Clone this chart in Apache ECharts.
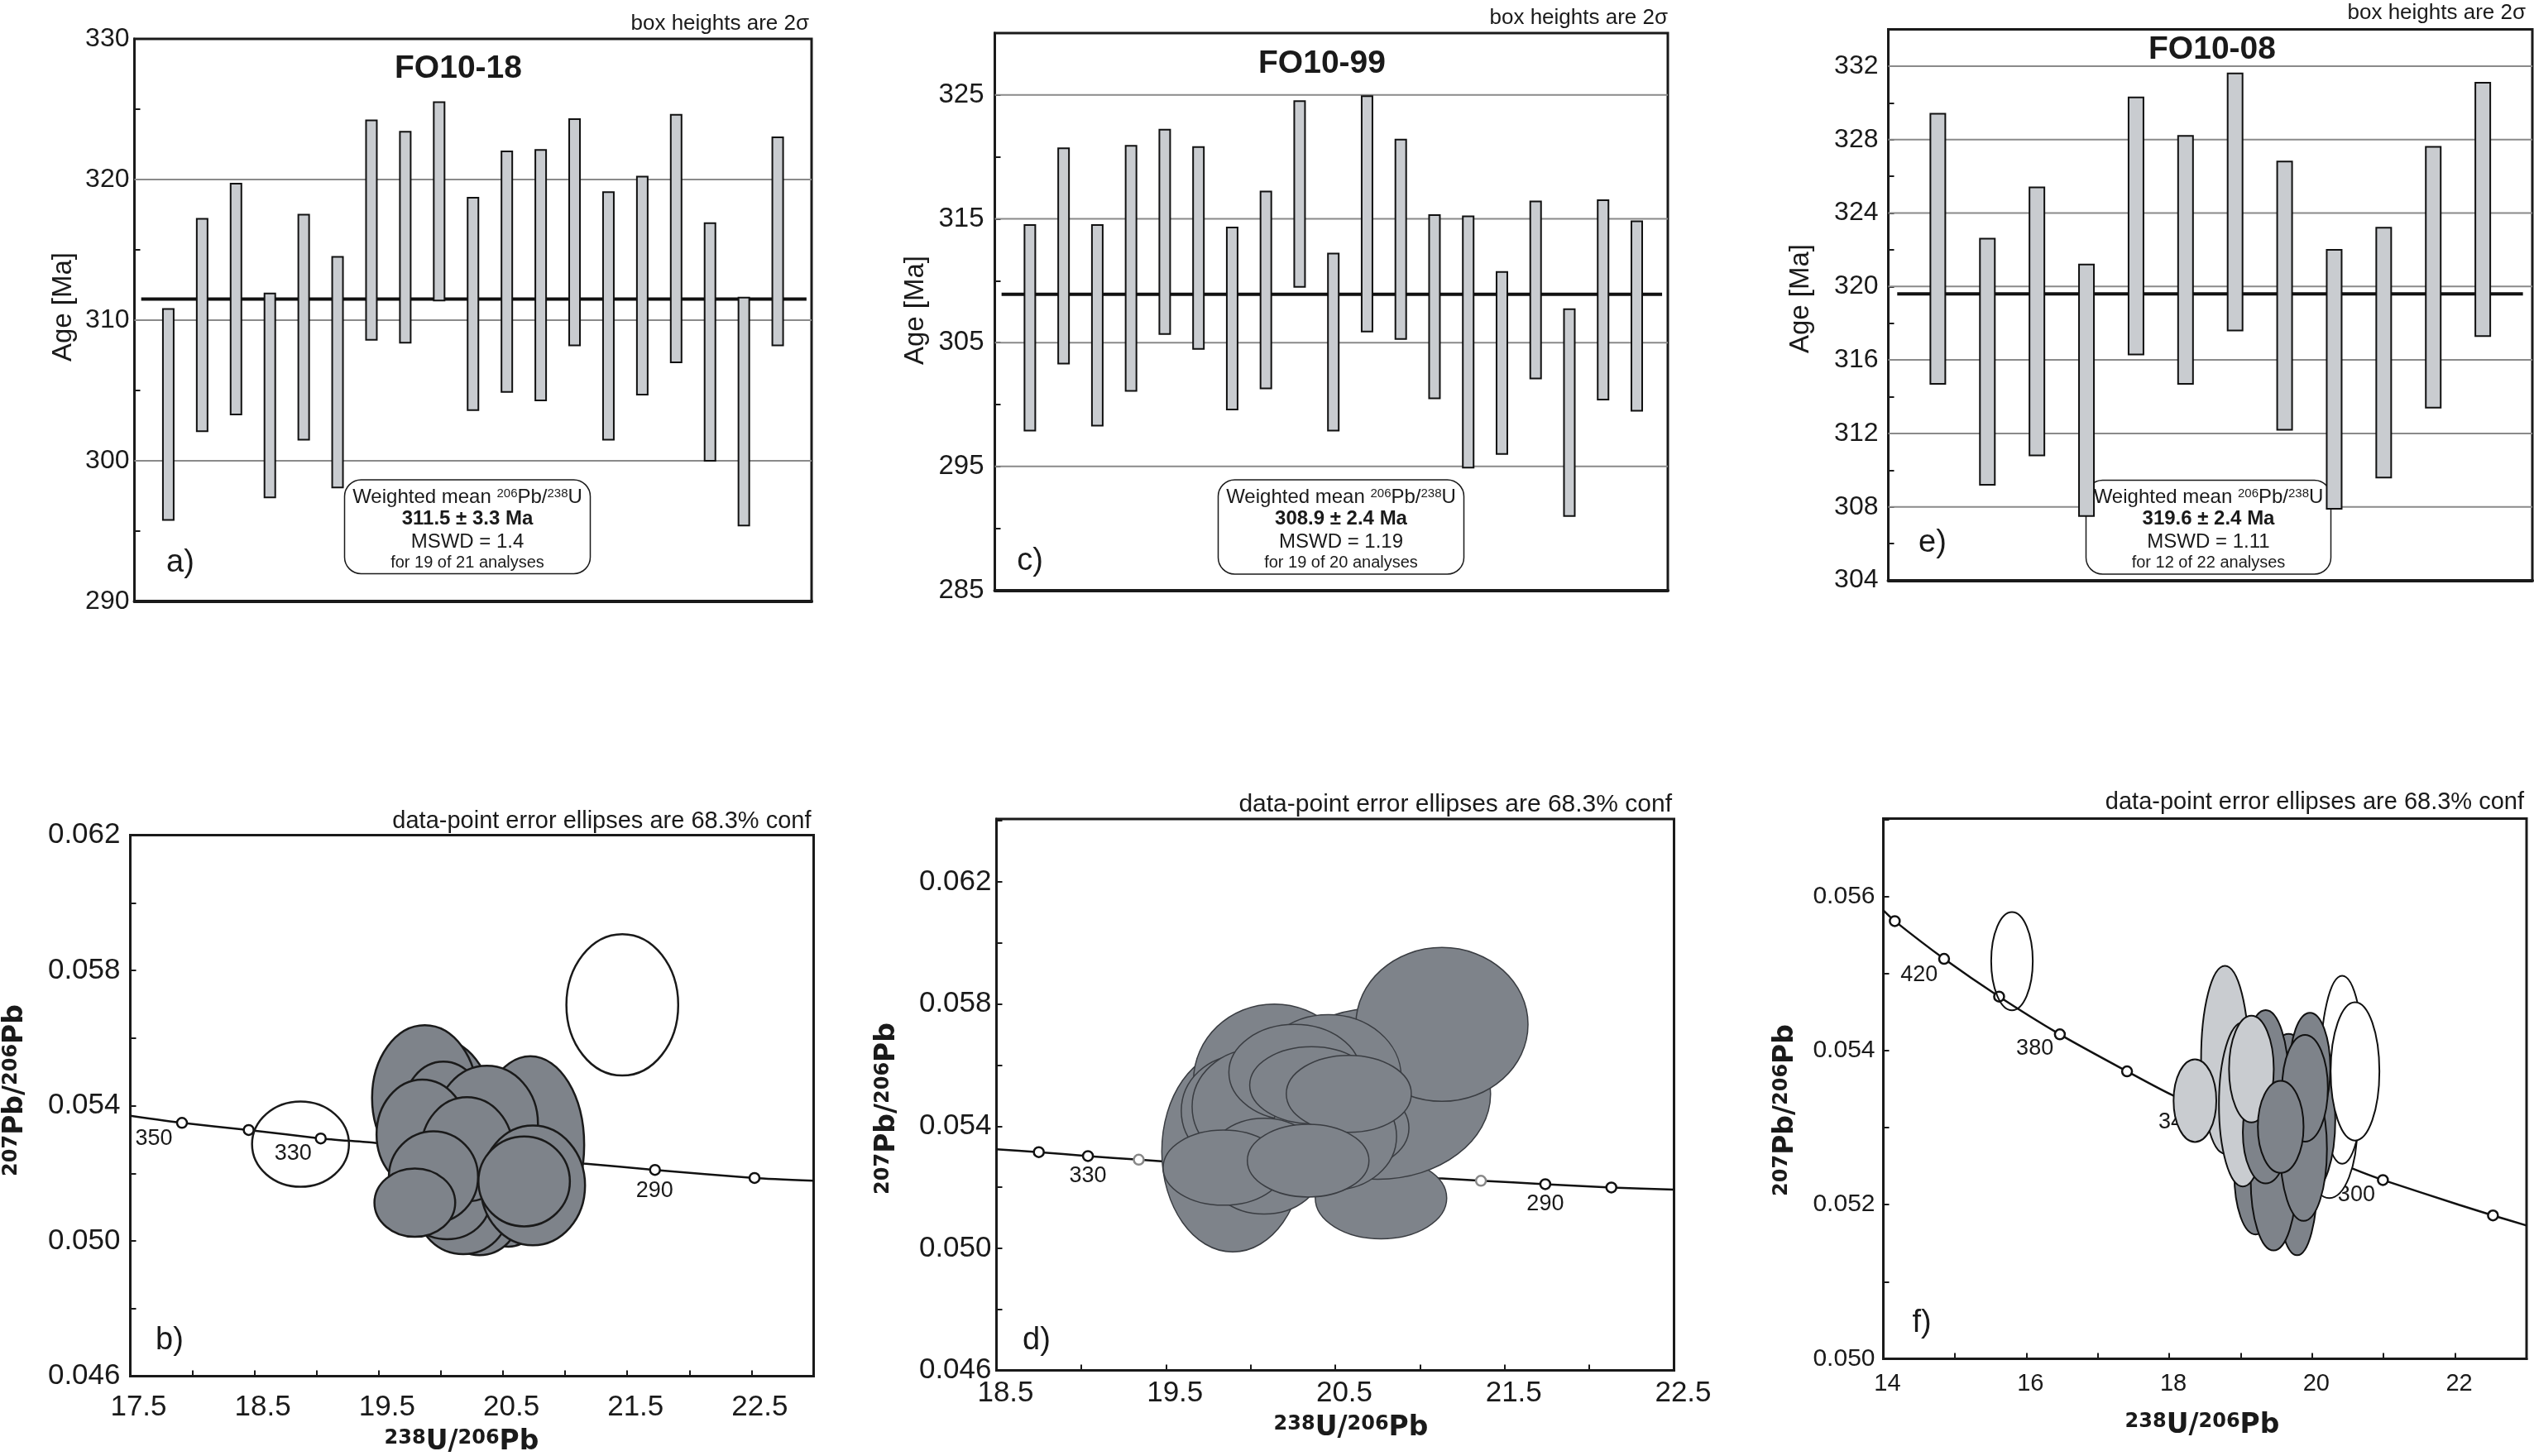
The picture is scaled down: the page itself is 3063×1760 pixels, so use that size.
<!DOCTYPE html>
<html>
<head>
<meta charset="utf-8">
<title>U-Pb zircon ages</title>
<script src="https://cdn.jsdelivr.net/npm/echarts@6/dist/echarts.min.js"></script>
<style>
  html, body { margin: 0; padding: 0; background: #fff; }
  #chart { width: 3063px; height: 1760px; }
</style>
</head>
<body>
<div id="chart"></div>
<script>
// Age panels: top and bottom of each 2 sigma box, in Ma
const aTop = [310.8, 317.2, 319.7, 311.9, 317.5, 314.5, 324.2, 323.4, 325.5, 318.7, 322.0, 322.1, 324.3, 319.1, 320.2, 324.6, 316.9, 311.6, 323.0];
const aBottom = [295.8, 302.1, 303.3, 297.4, 301.5, 298.1, 308.6, 308.4, 311.4, 303.6, 304.9, 304.3, 308.2, 301.5, 304.7, 307.0, 300.0, 295.4, 308.2];
const aMean = 311.5;
const aGridLines = [300, 310, 320];
const aTickLabels = [290, 300, 310, 320, 330];

const cTop = [314.5, 320.7, 314.5, 320.9, 322.2, 320.8, 314.3, 317.2, 324.5, 312.2, 324.9, 321.4, 315.3, 315.2, 310.7, 316.4, 307.7, 316.5, 314.8];
const cBottom = [297.9, 303.3, 298.3, 301.1, 305.7, 304.5, 299.6, 301.3, 309.5, 297.9, 305.9, 305.3, 300.5, 294.9, 296.0, 302.1, 291.0, 300.4, 299.5];
const cMean = 308.9;
const cGridLines = [295, 305, 315, 325];
const cTickLabels = [285, 295, 305, 315, 325];

const eTop = [329.4, 322.6, 325.4, 321.2, 330.3, 328.2, 331.6, 326.8, 322.0, 323.2, 327.6, 331.1];
const eBottom = [314.7, 309.2, 310.8, 307.5, 316.3, 314.7, 317.6, 312.2, 307.9, 309.6, 313.4, 317.3];
const eMean = 319.6;
const eGridLines = [308, 312, 316, 320, 324, 328, 332];
const eTickLabels = [304, 308, 312, 316, 320, 324, 328, 332];

// Concordia panels: ellipse centre, half widths and kind, in drawing order
const bEllipseX = [21.46, 18.87, 20.72, 20.545, 20.31, 20.18, 19.96, 19.87, 20.05, 20.02, 20.37, 19.85, 20.21, 20.74, 19.94, 19.79, 20.67];
const bEllipseY = [0.05698, 0.05286, 0.05284, 0.05094, 0.05082, 0.05094, 0.05385, 0.05423, 0.05119, 0.05385, 0.05347, 0.05315, 0.05271, 0.05164, 0.05189, 0.05113, 0.05176];
const bEllipseRx = [0.45, 0.39, 0.433, 0.26, 0.325, 0.368, 0.455, 0.424, 0.346, 0.325, 0.411, 0.368, 0.368, 0.42, 0.359, 0.325, 0.368];
const bEllipseRy = [0.00209, 0.00126, 0.00262, 0.00111, 0.00124, 0.00133, 0.00215, 0.00215, 0.00114, 0.00145, 0.00171, 0.00162, 0.00154, 0.00177, 0.00135, 0.00101, 0.00133];
const bEllipseKind = ['open', 'open', 'dark', 'dark', 'dark', 'dark', 'dark', 'dark', 'dark', 'dark', 'dark', 'dark', 'dark', 'dark', 'dark', 'dark', 'dark'];
const bCurveX = [17.5, 17.916, 18.453, 19.033, 19.47, 21.15, 21.723, 22.524, 23];
const bCurveY = [0.0537, 0.05349, 0.05328, 0.05303, 0.0529, 0.05229, 0.0521, 0.05186, 0.05178];
const bAgeX = [17.916, 18.453, 19.033, 21.723, 22.524];
const bAgeY = [0.05349, 0.05328, 0.05303, 0.0521, 0.05186];
const bLabelX = [17.69, 18.81, 21.72];
const bLabelY = [0.05301, 0.05258, 0.05147];
const bLabelText = ['350', '330', '290'];
const bYLabels = ['0.046', '0.050', '0.054', '0.058', '0.062'];
const bXLabels = ['17.5', '18.5', '19.5', '20.5', '21.5', '22.5'];

const dEllipseX = [19.895, 20.77, 20.75, 21.13, 20.14, 19.94, 20.03, 20.46, 20.26, 20.56, 20.49, 20.36, 20.08, 19.84, 20.58, 20.34];
const dEllipseY = [0.05317, 0.05164, 0.05506, 0.05733, 0.05548, 0.0545, 0.05464, 0.05562, 0.05576, 0.05394, 0.05366, 0.05534, 0.05269, 0.05264, 0.05506, 0.05287];
const dEllipseRx = [0.419, 0.388, 0.667, 0.508, 0.477, 0.349, 0.375, 0.429, 0.388, 0.375, 0.372, 0.365, 0.349, 0.356, 0.369, 0.359];
const dEllipseRy = [0.00329, 0.00133, 0.0028, 0.00252, 0.00252, 0.00182, 0.00189, 0.00203, 0.00157, 0.0014, 0.00175, 0.00126, 0.00157, 0.00123, 0.00126, 0.00119];
const dEllipseKind = dEllipseX.map(() => 'dark');
const dCurveX = [18.5, 18.75, 19.04, 19.34, 19.475, 21.11, 21.36, 21.74, 22.13, 22.5];
const dCurveY = [0.05324, 0.05315, 0.05302, 0.0529, 0.05285, 0.05229, 0.05221, 0.0521, 0.05199, 0.05192];
const dAgeX = [18.75, 19.04, 19.34, 21.36, 21.74, 22.13];
const dAgeY = [0.05315, 0.05302, 0.0529, 0.05221, 0.0521, 0.05199];
const dLabelX = [19.04, 21.74];
const dLabelY = [0.05238, 0.05145];
const dLabelText = ['330', '290'];
const dYLabels = ['0.046', '0.050', '0.054', '0.058', '0.062'];
const dXLabels = ['18.5', '19.5', '20.5', '21.5', '22.5'];

const fEllipseX = [15.8, 20.24, 20.42, 18.78, 19.21, 19.79, 19.46, 19.99, 19.67, 19.97, 19.35, 19.03, 19.35, 19.88, 19.9, 18.36, 19.15, 19.56, 20.6];
const fEllipseY = [0.05516, 0.053, 0.05375, 0.05388, 0.05239, 0.05233, 0.05233, 0.05311, 0.05344, 0.05377, 0.05361, 0.0533, 0.05294, 0.05272, 0.05351, 0.05335, 0.05376, 0.05301, 0.05373];
const fEllipseRx = [0.291, 0.39, 0.306, 0.334, 0.299, 0.284, 0.32, 0.334, 0.32, 0.284, 0.32, 0.334, 0.32, 0.327, 0.32, 0.299, 0.313, 0.32, 0.341];
const fEllipseRy = [0.000637, 0.000914, 0.001219, 0.001219, 0.000776, 0.000986, 0.000925, 0.000942, 0.000776, 0.00072, 0.000914, 0.001064, 0.000665, 0.000931, 0.000693, 0.000537, 0.000693, 0.000598, 0.000898];
const fEllipseKind = ['open', 'white', 'white', 'light', 'dark', 'dark', 'dark', 'dark', 'dark', 'dark', 'dark', 'light', 'dark', 'dark', 'dark', 'light', 'light', 'dark', 'white'];
const fCurveX = [14, 14.16, 14.85, 15.62, 16.47, 17.41, 18.07, 20.56, 20.99, 22.05, 22.53, 23];
const fCurveY = [0.05582, 0.05568, 0.05519, 0.0547, 0.05421, 0.05373, 0.05341, 0.05247, 0.05232, 0.052, 0.05186, 0.05173];
const fAgeX = [14.16, 14.85, 15.62, 16.47, 17.41, 20.99, 22.53];
const fAgeY = [0.05568, 0.05519, 0.0547, 0.05421, 0.05373, 0.05232, 0.05186];
const fLabelX = [14.5, 16.12, 18.11, 20.62];
const fLabelY = [0.05498, 0.05403, 0.05307, 0.05213];
const fLabelText = ['420', '380', '340', '300'];
const fYLabels = ['0.050', '0.052', '0.054', '0.056'];
const fXLabels = ['14', '16', '18', '20', '22'];

const FONT = '"Liberation Sans", Arial, sans-serif';
const BOLD_FONT = '"DejaVu Sans", sans-serif';
const INK = '#1a1a1a';
const ELLIPSE_FILL = { dark: '#7e838a', light: '#c9ccd0', white: '#ffffff', open: 'transparent' };

const grids = [];
const xAxes = [];
const yAxes = [];
const series = [];
const texts = [];

const addText = (text, x, y, style, extra) => {
    texts.push(Object.assign({
        type: 'text', x: x, y: y, z: 6,
        style: Object.assign({
            text: text, fontFamily: FONT, fontSize: 26, fill: INK,
            align: 'center', verticalAlign: 'middle'
        }, style)
    }, extra));
};

// Shared axes for one panel
const addAxes = (box, x, y) => {
    const index = grids.length;
    grids.push({
        left: box.left, top: box.top, width: box.right - box.left, height: box.bottom - box.top,
        show: true, borderColor: INK, borderWidth: box.border, backgroundColor: 'transparent'
    });
    xAxes.push({
        gridIndex: index, type: 'value', min: x.min, max: x.max, interval: x.interval,
        splitLine: { show: false },
        axisLine: { onZero: false, lineStyle: { color: INK, width: box.bottomLine } },
        axisTick: { show: !!x.labels, inside: true, length: 7, lineStyle: { color: INK, width: 2 } },
        axisLabel: x.labels ? {
            show: true, fontFamily: FONT, fontSize: x.fontSize, color: INK, margin: x.margin,
            padding: [0, 0, 0, x.shift], hideOverlap: false,
            showMinLabel: true, showMaxLabel: true,
            formatter: (v) => {
                const s = x.digits === 0 ? String(Math.round(v)) : v.toFixed(x.digits);
                return x.labels.includes(s) ? s : '';
            }
        } : { show: false }
    });
    yAxes.push({
        gridIndex: index, type: 'value', min: y.min, max: y.max, interval: y.interval,
        splitLine: { show: false },
        axisLine: { onZero: false, lineStyle: { color: INK, width: box.border } },
        axisTick: { show: true, inside: true, length: 7, lineStyle: { color: INK, width: 2 } },
        axisLabel: {
            show: true, fontFamily: FONT, fontSize: y.fontSize, color: INK, margin: y.margin,
            padding: y.shift < 0 ? [0, 0, -2 * y.shift, 0] : [2 * y.shift, 0, 0, 0],
            hideOverlap: false, showMinLabel: true, showMaxLabel: true,
            formatter: (v) => {
                const s = y.digits === 0 ? String(Math.round(v)) : v.toFixed(y.digits);
                return y.labels.includes(s) ? s : '';
            }
        }
    });
    return index;
};

// Panels a, c, e: boxes with the weighted mean across them
const addAgePanel = (cfg) => {
    const index = addAxes(cfg.box, { min: cfg.xMin, max: cfg.xMax, interval: cfg.xMax - cfg.xMin }, {
        min: cfg.yMin, max: cfg.yMax, interval: cfg.yStep, labels: cfg.labels.map(String),
        digits: 0, fontSize: cfg.fontSize, margin: cfg.labelMargin, shift: cfg.labelShift
    });
    series.push({
        type: 'custom', xAxisIndex: index, yAxisIndex: index, z: 1, silent: true,
        data: cfg.gridLines.map((v) => [cfg.xMin, v]),
        encode: { x: 0, y: 1 },
        renderItem: (params, api) => {
            const from = api.coord([cfg.xMin, api.value(1)]);
            const to = api.coord([cfg.xMax, api.value(1)]);
            return {
                type: 'line',
                shape: { x1: from[0], y1: from[1], x2: to[0], y2: to[1] },
                style: { stroke: '#8a8a8a', lineWidth: 2 }
            };
        }
    });
    series.push({
        type: 'line', xAxisIndex: index, yAxisIndex: index, z: 3, silent: true,
        showSymbol: false, symbol: 'none',
        data: [[cfg.meanFrom, cfg.mean], [cfg.meanTo, cfg.mean]],
        lineStyle: { color: '#111', width: 4 }
    });
    series.push({
        type: 'custom', xAxisIndex: index, yAxisIndex: index, z: 4, silent: true,
        data: cfg.top.map((t, i) => [i + 1, t, cfg.bottom[i]]),
        encode: { x: 0, y: [1, 2] },
        renderItem: (params, api) => {
            const a = api.coord([api.value(0), api.value(1)]);
            const b = api.coord([api.value(0), api.value(2)]);
            return {
                type: 'rect',
                shape: { x: a[0] - cfg.barWidth / 2, y: a[1], width: cfg.barWidth, height: b[1] - a[1] },
                style: { fill: '#c9ccd0', stroke: '#111', lineWidth: 2 }
            };
        }
    });
    addText('box heights are 2σ', cfg.noteX, cfg.noteY, { align: 'right', fontSize: 26 });
    addText(cfg.title, cfg.titleX, cfg.titleY, { fontSize: 39, fontWeight: 'bold' });
    addText('Age [Ma]', cfg.ageX, cfg.ageY, { fontSize: 33 }, { rotation: Math.PI / 2 });
    addText(cfg.letter, cfg.letterX, cfg.letterY, { fontSize: 38 });
    const m = cfg.meanBox;
    texts.push({
        type: 'rect', z: 2,
        shape: { x: m.left, y: m.top, width: m.right - m.left, height: m.bottom - m.top, r: 20 },
        style: { fill: '#fff', stroke: INK, lineWidth: 1.5 }
    });
    const cx = (m.left + m.right) / 2;
    addText('Weighted mean {s|206}Pb/{s|238}U', cx, m.top + 21, {
        fontSize: 24, rich: { s: { fontFamily: FONT, fontSize: 15, fill: INK, verticalAlign: 'top' } }
    });
    addText(cfg.age, cx, m.top + 47, { fontSize: 24, fontWeight: 'bold' });
    addText(cfg.mswd, cx, m.top + 75, { fontSize: 24 });
    addText(cfg.count, cx, m.top + 100, { fontSize: 20 });
};

const boldIsotope = (a, b, c, d, size, supSize) => ({
    text: '{s|' + a + '}{l|' + b + '}{s|' + c + '}{l|' + d + '}',
    rich: {
        s: { fontFamily: BOLD_FONT, fontWeight: 'bold', fontSize: supSize, fill: INK, verticalAlign: 'top' },
        l: { fontFamily: BOLD_FONT, fontWeight: 'bold', fontSize: size, fill: INK }
    }
});

// Panels b, d, f: concordia curve with its age marks, ellipses on top
const addConcordiaPanel = (cfg) => {
    const index = addAxes(cfg.box, {
        min: cfg.xMin, max: cfg.xMax, interval: cfg.xStep, labels: cfg.xLabels, digits: cfg.xDigits,
        fontSize: cfg.xFontSize, margin: cfg.xMargin, shift: cfg.xShift
    }, {
        min: cfg.yMin, max: cfg.yMax, interval: cfg.yStep, labels: cfg.yLabels, digits: 3,
        fontSize: cfg.yFontSize, margin: cfg.yMargin, shift: cfg.yShift
    });
    series.push({
        type: 'line', xAxisIndex: index, yAxisIndex: index, z: 2, silent: true,
        symbol: 'none', smooth: 0.2,
        data: cfg.curveX.map((x, i) => [x, cfg.curveY[i]]),
        lineStyle: { color: '#111', width: 2.5 }
    });
    series.push({
        type: 'scatter', xAxisIndex: index, yAxisIndex: index, z: 3, silent: true,
        symbol: 'circle', symbolSize: 12,
        data: cfg.ageX.map((x, i) => ({
            value: [x, cfg.ageY[i]],
            itemStyle: { color: '#fff', opacity: 1, borderColor: (cfg.faint || []).includes(i) ? '#888' : '#111', borderWidth: 2.5 }
        }))
    });
    series.push({
        type: 'scatter', xAxisIndex: index, yAxisIndex: index, z: 3, silent: true,
        symbolSize: 0, itemStyle: { opacity: 1 },
        data: cfg.labelX.map((x, i) => [x, cfg.labelY[i]]),
        label: {
            show: true, position: 'inside', fontFamily: FONT, fontSize: 27, color: INK,
            formatter: (p) => cfg.labelText[p.dataIndex]
        }
    });
    series.push({
        type: 'custom', xAxisIndex: index, yAxisIndex: index, z: 4, silent: true, clip: true,
        data: cfg.ellipseX.map((x, i) => [x, cfg.ellipseY[i], cfg.ellipseRx[i], cfg.ellipseRy[i]]),
        encode: { x: 0, y: 1 },
        renderItem: (params, api) => {
            const c = api.coord([api.value(0), api.value(1)]);
            const ex = api.coord([api.value(0) + api.value(2), api.value(1)]);
            const ey = api.coord([api.value(0), api.value(1) + api.value(3)]);
            return {
                type: 'ellipse',
                shape: { cx: c[0], cy: c[1], rx: ex[0] - c[0], ry: c[1] - ey[1] },
                style: { fill: ELLIPSE_FILL[cfg.ellipseKind[params.dataIndex]], stroke: cfg.stroke, lineWidth: cfg.strokeWidth }
            };
        }
    });
    addText('data-point error ellipses are 68.3% conf', cfg.noteX, cfg.noteY, { align: 'right', fontSize: cfg.noteSize });
    addText(cfg.letter, cfg.letterX, cfg.letterY, { fontSize: 38 });
    addText('', cfg.titleX, cfg.titleY, boldIsotope('238', 'U/', '206', 'Pb', 33, 24));
    addText('', cfg.sideX, cfg.sideY, boldIsotope('207', 'Pb/', '206', 'Pb', 33, 24), { rotation: Math.PI / 2 });
};

addAgePanel({
    box: { left: 162.5, right: 981, top: 47, bottom: 727, border: 3, bottomLine: 4 },
    xMin: 0, xMax: 20, yMin: 290, yMax: 330, yStep: 5,
    top: aTop, bottom: aBottom, mean: aMean, meanFrom: 0.2, meanTo: 19.85, gridLines: aGridLines,
    labels: aTickLabels, fontSize: 32, labelMargin: 6, labelShift: -5, barWidth: 13,
    noteX: 978, noteY: 29, title: 'FO10-18', titleX: 554, titleY: 83,
    ageX: 77, ageY: 371, letter: 'a)', letterX: 218, letterY: 681,
    meanBox: { left: 416.5, right: 713.5, top: 580, bottom: 693.5 },
    age: '311.5 ± 3.3 Ma', mswd: 'MSWD = 1.4', count: 'for 19 of 21 analyses'
});
addAgePanel({
    box: { left: 1202.5, right: 2016, top: 40, bottom: 713.5, border: 3, bottomLine: 4 },
    xMin: -0.04, xMax: 19.92, yMin: 285, yMax: 330, yStep: 5,
    top: cTop, bottom: cBottom, mean: cMean, meanFrom: 0.16, meanTo: 19.75, gridLines: cGridLines,
    labels: cTickLabels, fontSize: 33, labelMargin: 13, labelShift: 0, barWidth: 13,
    noteX: 2016, noteY: 22, title: 'FO10-99', titleX: 1598, titleY: 77.5,
    ageX: 1107, ageY: 375, letter: 'c)', letterX: 1245, letterY: 679,
    meanBox: { left: 1472.5, right: 1769.5, top: 580, bottom: 694 },
    age: '308.9 ± 2.4 Ma', mswd: 'MSWD = 1.19', count: 'for 19 of 20 analyses'
});
addAgePanel({
    box: { left: 2282.5, right: 3061, top: 35.5, bottom: 701.5, border: 3, bottomLine: 4 },
    xMin: 0, xMax: 13, yMin: 304, yMax: 334, yStep: 2,
    top: eTop, bottom: eBottom, mean: eMean, meanFrom: 0.18, meanTo: 12.81, gridLines: eGridLines,
    labels: eTickLabels, fontSize: 32, labelMargin: 12, labelShift: -3, barWidth: 18,
    noteX: 3053, noteY: 15.5, title: 'FO10-08', titleX: 2674, titleY: 60.5,
    ageX: 2177, ageY: 361, letter: 'e)', letterX: 2336, letterY: 657,
    meanBox: { left: 2521.5, right: 2817.5, top: 580.5, bottom: 694 },
    age: '319.6 ± 2.4 Ma', mswd: 'MSWD = 1.11', count: 'for 12 of 22 analyses'
});
addConcordiaPanel({
    box: { left: 157.5, right: 983.5, top: 1009.5, bottom: 1663.5, border: 3, bottomLine: 3 },
    xMin: 17.5, xMax: 23, xStep: 0.5, xLabels: bXLabels, xDigits: 1, xFontSize: 35, xMargin: 20, xShift: 20,
    yMin: 0.046, yMax: 0.062, yStep: 0.002, yLabels: bYLabels, yFontSize: 35, yMargin: 12, yShift: 6,
    curveX: bCurveX, curveY: bCurveY, ageX: bAgeX, ageY: bAgeY,
    labelX: bLabelX, labelY: bLabelY, labelText: bLabelText,
    ellipseX: bEllipseX, ellipseY: bEllipseY, ellipseRx: bEllipseRx, ellipseRy: bEllipseRy, ellipseKind: bEllipseKind,
    stroke: '#1a1a1a', strokeWidth: 2.5,
    noteX: 980.5, noteY: 993, noteSize: 29, letter: 'b)', letterX: 205, letterY: 1621,
    titleX: 558, titleY: 1743, sideX: 18, sideY: 1318
});
addConcordiaPanel({
    box: { left: 1204.5, right: 2023.5, top: 990, bottom: 1656.5, border: 3, bottomLine: 3 },
    xMin: 18.5, xMax: 22.5, xStep: 0.5, xLabels: dXLabels, xDigits: 1, xFontSize: 35, xMargin: 10, xShift: 22,
    yMin: 0.046, yMax: 0.06406, yStep: 0.002, yLabels: dYLabels, yFontSize: 35, yMargin: 6, yShift: -2,
    curveX: dCurveX, curveY: dCurveY, ageX: dAgeX, ageY: dAgeY, faint: [2, 3],
    labelX: dLabelX, labelY: dLabelY, labelText: dLabelText,
    ellipseX: dEllipseX, ellipseY: dEllipseY, ellipseRx: dEllipseRx, ellipseRy: dEllipseRy, ellipseKind: dEllipseKind,
    stroke: '#3a3d42', strokeWidth: 1.5,
    noteX: 2021, noteY: 973, noteSize: 30, letter: 'd)', letterX: 1253, letterY: 1621,
    titleX: 1633, titleY: 1726, sideX: 1072, sideY: 1340
});
addConcordiaPanel({
    box: { left: 2276.5, right: 3054, top: 989.5, bottom: 1642.5, border: 3, bottomLine: 3 },
    xMin: 14, xMax: 23, xStep: 1, xLabels: fXLabels, xDigits: 0, xFontSize: 29, xMargin: 16, xShift: 10,
    yMin: 0.05, yMax: 0.05701, yStep: 0.001, yLabels: fYLabels, yFontSize: 30, yMargin: 10, yShift: -2,
    curveX: fCurveX, curveY: fCurveY, ageX: fAgeX, ageY: fAgeY,
    labelX: fLabelX, labelY: fLabelY, labelText: fLabelText,
    ellipseX: fEllipseX, ellipseY: fEllipseY, ellipseRx: fEllipseRx, ellipseRy: fEllipseRy, ellipseKind: fEllipseKind,
    stroke: '#111', strokeWidth: 2,
    noteX: 3051, noteY: 970, noteSize: 29, letter: 'f)', letterX: 2323, letterY: 1600,
    titleX: 2662, titleY: 1723, sideX: 2158, sideY: 1342
});

const chart = echarts.init(document.getElementById('chart'));
chart.setOption({
    animation: false,
    backgroundColor: '#fff',
    grid: grids,
    xAxis: xAxes,
    yAxis: yAxes,
    series: series,
    graphic: { elements: texts }
});
</script>
</body>
</html>
